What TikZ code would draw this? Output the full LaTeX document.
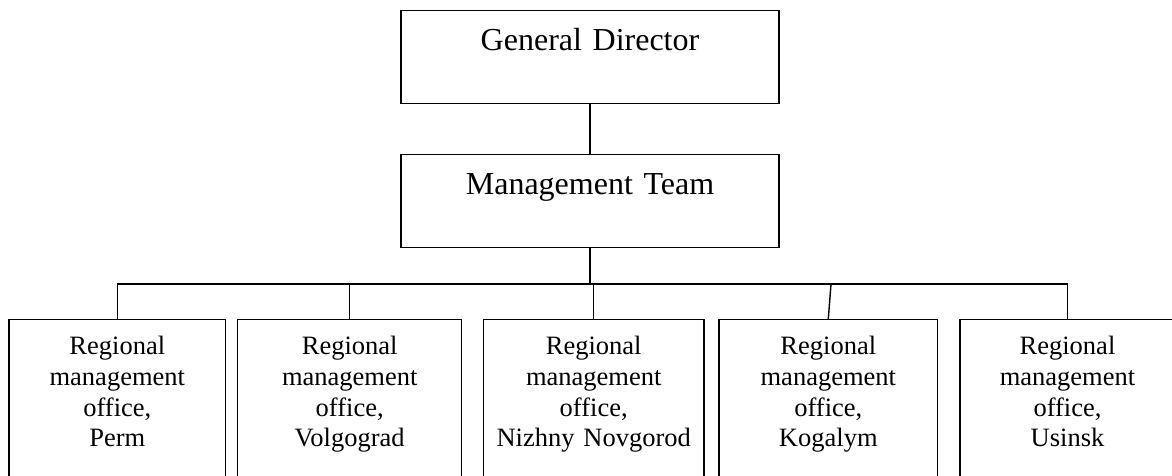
\documentclass[tikz,border=0pt]{standalone}
\usepackage{fontspec}
\setmainfont{Liberation Serif}
\begin{document}
\begin{tikzpicture}[x=1pt,y=-1pt,line width=1.4pt,
  topbox/.style={draw, text width=378pt, align=center, inner xsep=0pt, inner ysep=0pt,
    text height=40pt, text depth=53pt, font=\fontsize{32}{38}\selectfont, anchor=north},
  regbox/.style={draw, text width=#1, align=center, inner xsep=0pt, inner ysep=0pt,
    text height=35pt, text depth=170pt, font=\fontsize{26.5}{30.7}\selectfont, anchor=north},
  link/.style={draw, line width=1.4pt}]
\useasboundingbox (0,0) rectangle (1172,475);
\clip (0,0) rectangle (1172,475);
\node[topbox] (gd) at (590,10) {General Director};
\node[topbox] (mt) at (590,154) {Management Team};
\node[regbox=216.7pt] (b1) at (117.3,319) {Regional\\management\\office,\\Perm};
\node[regbox=224pt] (b2) at (349.7,319) {Regional\\management\\office,\\Volgograd};
\node[regbox=220.7pt] (b3) at (593.7,319) {Regional\\management\\office,\\Nizhny Novgorod};
\node[regbox=218.7pt] (b4) at (828.3,319) {Regional\\management\\office,\\Kogalym};
\node[regbox=215pt] (b5) at (1067.5,319) {Regional\\management\\office,\\Usinsk};
\coordinate (j) at (590,284);
\coordinate (k4) at (831,284);
\draw[link] (gd.south) -- (mt.north);
\draw[link] (mt.south) -- (j);
\draw[link] (b1.north) |- (j) -| (b5.north);
\draw[link] (b2.north) -- (b2.north |- j);
\draw[link] (b3.north) -- (b3.north |- j);
\draw[link] (b4.north) -- (k4);
\end{tikzpicture}
\end{document}
